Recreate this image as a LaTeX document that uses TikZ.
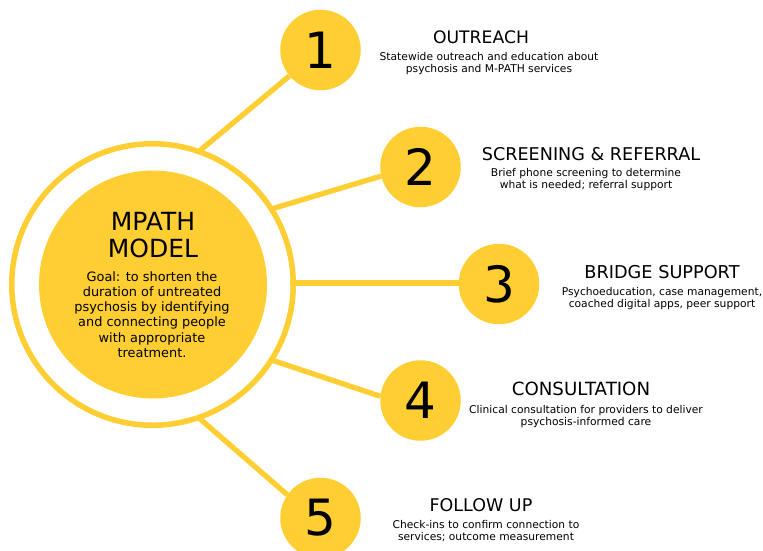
\documentclass[tikz,border=0pt]{standalone}
\usepackage{fontspec}
\setmainfont{DejaVu Sans}
\definecolor{gold}{HTML}{FFCE33}
\tikzset{
  x=1pt,y=-1pt,
  numdisc/.style={circle,fill=gold,minimum size=80.5pt,inner sep=0pt,font=\fontsize{50}{50}\selectfont,text=black},
  link/.style={draw=gold,line width=5.3pt},
  head/.style={font=\fontsize{#1}{19}\selectfont,text=black,inner sep=0pt},
  desc/.style={font=\fontsize{10.7}{12}\selectfont,align=center,text=black,inner sep=0pt},
}
\begin{document}
\begin{tikzpicture}
\useasboundingbox (0,0) rectangle (763,550);
\fill[white] (0,0) rectangle (763,550);
\node[circle,draw=gold,line width=5.5pt,minimum size=281.5pt,inner sep=0pt] (ring) at (152.5,284.5) {};
\node[circle,fill=gold,minimum size=228pt,inner sep=0pt] (core) at (153,284.5) {};
\node[numdisc] (n1) at (320.5,50) {1};
\node[numdisc] (n2) at (420.5,167) {2};
\node[numdisc] (n3) at (499,284) {3};
\node[numdisc] (n4) at (420.5,400.5) {4};
\node[numdisc] (n5) at (320.5,518) {5};
\coordinate (r1) at (200,150.5);
\coordinate (r2) at (273,208.5);
\coordinate (r3) at (290,283);
\coordinate (r4) at (273,360.5);
\coordinate (r5) at (199,418);
\draw[link] (r1) -- (n1);
\draw[link] (r2) -- (n2.193);
\draw[link] (r3) -- (n3.center |- r3);
\draw[link] (r4) -- (n4.174);
\draw[link] (r5) -- (n5.145);
\node[font=\fontsize{25}{26.5}\selectfont,align=center,text=black,inner sep=0pt] (title) at (153,235) {MPATH\\MODEL};
\node[font=\fontsize{12.9}{15.3}\selectfont,align=center,text=black,inner sep=0pt] (goal) at (152,314.5) {Goal: to shorten the\\duration of untreated\\psychosis by identifying\\and connecting people\\with appropriate\\treatment.};
\node[head=17.2] (h1) at (481,37) {OUTREACH};
\node[desc] (d1) at (489,64) {Statewide outreach and education about\\psychosis and M-PATH services};
\node[head=17.6] (h2) at (591,154) {SCREENING \& REFERRAL};
\node[desc] (d2) at (586,179.5) {Brief phone screening to determine\\what is needed; referral support};
\node[head=17.7] (h3) at (662,272) {BRIDGE SUPPORT};
\node[desc] (d3) at (662,298.5) {Psychoeducation, case management,\\coached digital apps, peer support};
\node[head=18.2] (h4) at (581,389) {CONSULTATION};
\node[desc] (d4) at (586,416.5) {Clinical consultation for providers to deliver\\psychosis-informed care};
\node[head=17.5] (h5) at (481,505) {FOLLOW UP};
\node[desc] (d5) at (486,531.5) {Check-ins to confirm connection to\\services; outcome measurement};
\end{tikzpicture}
\end{document}
